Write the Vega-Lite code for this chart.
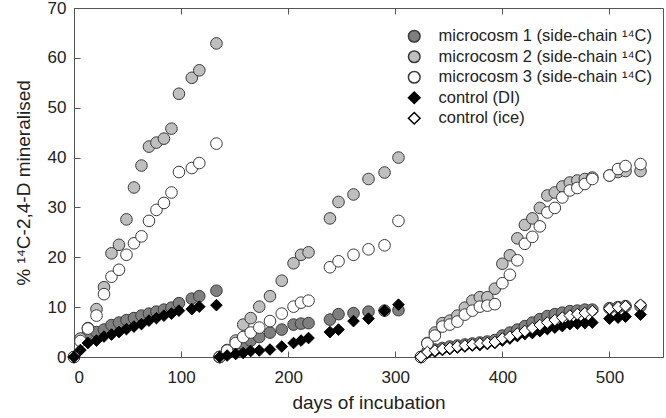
{
  "$schema": "https://vega.github.io/schema/vega-lite/v6.json",
  "width": 589,
  "height": 349,
  "autosize": {"type": "none"},
  "padding": {"left": 74, "top": 8, "right": 3, "bottom": 61},
  "background": "white",
  "config": {
    "font": "Liberation Sans",
    "view": {"stroke": "#555", "strokeWidth": 1},
    "axis": {
      "domainColor": "#555",
      "tickColor": "#555",
      "tickSize": -6,
      "labelFontSize": 17,
      "labelColor": "#222",
      "titleFontSize": 19,
      "titleColor": "#222",
      "titleFontWeight": "normal",
      "grid": false
    }
  },
  "data": {
    "values": [
      {"s":"m1","d":0,"v":0},{"s":"m1","d":6,"v":3.6},{"s":"m1","d":13,"v":4.7},{"s":"m1","d":21,"v":5.0},{"s":"m1","d":28,"v":5.5},{"s":"m1","d":35,"v":6.4},{"s":"m1","d":42,"v":6.9},{"s":"m1","d":49,"v":7.4},{"s":"m1","d":56,"v":7.8},{"s":"m1","d":63,"v":8.3},{"s":"m1","d":70,"v":8.7},{"s":"m1","d":77,"v":9.1},{"s":"m1","d":84,"v":9.5},{"s":"m1","d":91,"v":9.9},{"s":"m1","d":98,"v":10.8},{"s":"m1","d":110,"v":11.7},{"s":"m1","d":117,"v":12.2},{"s":"m1","d":133,"v":13.3},
      {"s":"m1","d":136,"v":0},{"s":"m1","d":143,"v":0.8},{"s":"m1","d":151,"v":1.6},{"s":"m1","d":158,"v":2.6},{"s":"m1","d":165,"v":3.3},{"s":"m1","d":173,"v":4.0},{"s":"m1","d":183,"v":4.9},{"s":"m1","d":194,"v":5.5},{"s":"m1","d":205,"v":6.5},{"s":"m1","d":212,"v":6.7},{"s":"m1","d":219,"v":6.8},{"s":"m1","d":239,"v":7.5},{"s":"m1","d":247,"v":8.6},{"s":"m1","d":261,"v":8.8},{"s":"m1","d":275,"v":9.1},{"s":"m1","d":290,"v":9.3},{"s":"m1","d":303,"v":9.4},
      {"s":"m1","d":324,"v":0},{"s":"m1","d":330,"v":1.1},{"s":"m1","d":337,"v":1.5},{"s":"m1","d":344,"v":1.8},{"s":"m1","d":351,"v":2.1},{"s":"m1","d":358,"v":2.3},{"s":"m1","d":365,"v":2.5},{"s":"m1","d":372,"v":2.7},{"s":"m1","d":379,"v":2.9},{"s":"m1","d":386,"v":3.1},{"s":"m1","d":393,"v":3.4},{"s":"m1","d":400,"v":4.3},{"s":"m1","d":407,"v":4.9},{"s":"m1","d":414,"v":5.5},{"s":"m1","d":421,"v":6.2},{"s":"m1","d":428,"v":6.9},{"s":"m1","d":435,"v":7.6},{"s":"m1","d":442,"v":8.2},{"s":"m1","d":449,"v":8.6},{"s":"m1","d":456,"v":8.9},{"s":"m1","d":463,"v":9.2},{"s":"m1","d":470,"v":9.3},{"s":"m1","d":477,"v":9.5},{"s":"m1","d":484,"v":9.5},{"s":"m1","d":500,"v":9.8},{"s":"m1","d":508,"v":10.0},{"s":"m1","d":515,"v":10.2},{"s":"m1","d":529,"v":10.2},
      {"s":"m2","d":0,"v":0},{"s":"m2","d":6,"v":3.7},{"s":"m2","d":13,"v":5.8},{"s":"m2","d":21,"v":9.6},{"s":"m2","d":28,"v":14.0},{"s":"m2","d":35,"v":20.8},{"s":"m2","d":42,"v":22.5},{"s":"m2","d":49,"v":27.6},{"s":"m2","d":56,"v":34.0},{"s":"m2","d":63,"v":38.4},{"s":"m2","d":70,"v":42.2},{"s":"m2","d":77,"v":43.0},{"s":"m2","d":84,"v":43.8},{"s":"m2","d":91,"v":45.8},{"s":"m2","d":98,"v":52.8},{"s":"m2","d":110,"v":56.0},{"s":"m2","d":117,"v":57.5},{"s":"m2","d":133,"v":62.9},
      {"s":"m2","d":136,"v":0},{"s":"m2","d":143,"v":1.4},{"s":"m2","d":151,"v":3.3},{"s":"m2","d":158,"v":6.5},{"s":"m2","d":165,"v":7.8},{"s":"m2","d":173,"v":10.1},{"s":"m2","d":183,"v":12.2},{"s":"m2","d":194,"v":15.3},{"s":"m2","d":205,"v":18.8},{"s":"m2","d":212,"v":20.5},{"s":"m2","d":219,"v":21.0},{"s":"m2","d":239,"v":27.8},{"s":"m2","d":247,"v":31.1},{"s":"m2","d":261,"v":32.6},{"s":"m2","d":275,"v":35.7},{"s":"m2","d":290,"v":37.0},{"s":"m2","d":303,"v":40.0},
      {"s":"m2","d":324,"v":0},{"s":"m2","d":330,"v":2.8},{"s":"m2","d":337,"v":4.9},{"s":"m2","d":344,"v":6.8},{"s":"m2","d":351,"v":7.3},{"s":"m2","d":358,"v":8.3},{"s":"m2","d":365,"v":9.9},{"s":"m2","d":372,"v":11.3},{"s":"m2","d":379,"v":12.0},{"s":"m2","d":386,"v":12.0},{"s":"m2","d":393,"v":13.7},{"s":"m2","d":400,"v":18.7},{"s":"m2","d":407,"v":20.4},{"s":"m2","d":414,"v":23.8},{"s":"m2","d":421,"v":26.5},{"s":"m2","d":428,"v":27.8},{"s":"m2","d":435,"v":29.9},{"s":"m2","d":442,"v":32.4},{"s":"m2","d":449,"v":33.0},{"s":"m2","d":456,"v":34.2},{"s":"m2","d":463,"v":35.0},{"s":"m2","d":470,"v":35.4},{"s":"m2","d":477,"v":35.7},{"s":"m2","d":484,"v":36.0},{"s":"m2","d":500,"v":36.4},{"s":"m2","d":508,"v":37.1},{"s":"m2","d":515,"v":37.3},{"s":"m2","d":529,"v":37.3},
      {"s":"m3","d":0,"v":0},{"s":"m3","d":6,"v":3.2},{"s":"m3","d":13,"v":5.7},{"s":"m3","d":21,"v":8.3},{"s":"m3","d":28,"v":12.6},{"s":"m3","d":35,"v":16.1},{"s":"m3","d":42,"v":17.5},{"s":"m3","d":49,"v":20.5},{"s":"m3","d":56,"v":22.8},{"s":"m3","d":63,"v":24.2},{"s":"m3","d":70,"v":27.3},{"s":"m3","d":77,"v":29.5},{"s":"m3","d":84,"v":30.9},{"s":"m3","d":91,"v":33.0},{"s":"m3","d":98,"v":37.1},{"s":"m3","d":110,"v":37.9},{"s":"m3","d":117,"v":38.9},{"s":"m3","d":133,"v":42.8},
      {"s":"m3","d":136,"v":0},{"s":"m3","d":143,"v":1.3},{"s":"m3","d":151,"v":2.8},{"s":"m3","d":158,"v":4.0},{"s":"m3","d":165,"v":4.9},{"s":"m3","d":173,"v":5.9},{"s":"m3","d":183,"v":7.2},{"s":"m3","d":194,"v":8.7},{"s":"m3","d":205,"v":10.1},{"s":"m3","d":212,"v":10.9},{"s":"m3","d":219,"v":11.3},{"s":"m3","d":239,"v":18.0},{"s":"m3","d":247,"v":19.2},{"s":"m3","d":261,"v":20.5},{"s":"m3","d":275,"v":21.6},{"s":"m3","d":290,"v":22.4},{"s":"m3","d":303,"v":27.3},
      {"s":"m3","d":324,"v":0},{"s":"m3","d":330,"v":2.7},{"s":"m3","d":337,"v":4.3},{"s":"m3","d":344,"v":6.1},{"s":"m3","d":351,"v":6.5},{"s":"m3","d":358,"v":7.1},{"s":"m3","d":365,"v":8.5},{"s":"m3","d":372,"v":9.3},{"s":"m3","d":379,"v":10.1},{"s":"m3","d":386,"v":10.3},{"s":"m3","d":393,"v":10.6},{"s":"m3","d":400,"v":14.8},{"s":"m3","d":407,"v":16.5},{"s":"m3","d":414,"v":19.4},{"s":"m3","d":421,"v":22.7},{"s":"m3","d":428,"v":24.1},{"s":"m3","d":435,"v":26.2},{"s":"m3","d":442,"v":29.0},{"s":"m3","d":449,"v":29.9},{"s":"m3","d":456,"v":32.0},{"s":"m3","d":463,"v":33.4},{"s":"m3","d":470,"v":33.9},{"s":"m3","d":477,"v":34.7},{"s":"m3","d":484,"v":35.7},{"s":"m3","d":500,"v":36.4},{"s":"m3","d":508,"v":37.7},{"s":"m3","d":515,"v":38.3},{"s":"m3","d":529,"v":38.7},
      {"s":"di","d":0,"v":0},{"s":"di","d":6,"v":1.4},{"s":"di","d":13,"v":2.8},{"s":"di","d":21,"v":3.3},{"s":"di","d":28,"v":4.1},{"s":"di","d":35,"v":4.5},{"s":"di","d":42,"v":5.0},{"s":"di","d":49,"v":5.6},{"s":"di","d":56,"v":6.1},{"s":"di","d":63,"v":6.6},{"s":"di","d":70,"v":7.3},{"s":"di","d":77,"v":7.8},{"s":"di","d":84,"v":8.3},{"s":"di","d":91,"v":8.7},{"s":"di","d":98,"v":9.3},{"s":"di","d":110,"v":9.6},{"s":"di","d":117,"v":10.1},{"s":"di","d":133,"v":10.4},
      {"s":"di","d":136,"v":0},{"s":"di","d":143,"v":0.3},{"s":"di","d":151,"v":0.6},{"s":"di","d":158,"v":0.8},{"s":"di","d":165,"v":1.2},{"s":"di","d":173,"v":1.3},{"s":"di","d":183,"v":1.5},{"s":"di","d":194,"v":2.1},{"s":"di","d":205,"v":2.8},{"s":"di","d":212,"v":3.3},{"s":"di","d":219,"v":3.8},{"s":"di","d":239,"v":5.0},{"s":"di","d":247,"v":5.5},{"s":"di","d":261,"v":7.2},{"s":"di","d":275,"v":7.7},{"s":"di","d":290,"v":9.3},{"s":"di","d":303,"v":10.5},
      {"s":"di","d":324,"v":0},{"s":"di","d":330,"v":0.8},{"s":"di","d":337,"v":1.1},{"s":"di","d":344,"v":1.4},{"s":"di","d":351,"v":1.6},{"s":"di","d":358,"v":1.9},{"s":"di","d":365,"v":2.1},{"s":"di","d":372,"v":2.3},{"s":"di","d":379,"v":2.4},{"s":"di","d":386,"v":2.6},{"s":"di","d":393,"v":2.8},{"s":"di","d":400,"v":3.3},{"s":"di","d":407,"v":3.7},{"s":"di","d":414,"v":4.2},{"s":"di","d":421,"v":4.6},{"s":"di","d":428,"v":4.8},{"s":"di","d":435,"v":5.2},{"s":"di","d":442,"v":5.6},{"s":"di","d":449,"v":5.9},{"s":"di","d":456,"v":6.2},{"s":"di","d":463,"v":6.6},{"s":"di","d":470,"v":6.7},{"s":"di","d":477,"v":6.8},{"s":"di","d":484,"v":6.9},{"s":"di","d":500,"v":7.7},{"s":"di","d":508,"v":7.9},{"s":"di","d":515,"v":8.1},{"s":"di","d":529,"v":8.5},
      {"s":"ice","d":324,"v":0},{"s":"ice","d":330,"v":1.0},{"s":"ice","d":337,"v":1.3},{"s":"ice","d":344,"v":1.6},{"s":"ice","d":351,"v":1.8},{"s":"ice","d":358,"v":2.1},{"s":"ice","d":365,"v":2.3},{"s":"ice","d":372,"v":2.5},{"s":"ice","d":379,"v":2.7},{"s":"ice","d":386,"v":2.8},{"s":"ice","d":393,"v":3.0},{"s":"ice","d":400,"v":3.7},{"s":"ice","d":407,"v":4.1},{"s":"ice","d":414,"v":4.7},{"s":"ice","d":421,"v":5.2},{"s":"ice","d":428,"v":5.8},{"s":"ice","d":435,"v":6.4},{"s":"ice","d":442,"v":6.9},{"s":"ice","d":449,"v":7.4},{"s":"ice","d":456,"v":7.9},{"s":"ice","d":463,"v":8.3},{"s":"ice","d":470,"v":8.6},{"s":"ice","d":477,"v":8.8},{"s":"ice","d":484,"v":9.2},{"s":"ice","d":500,"v":9.7},{"s":"ice","d":508,"v":10.0},{"s":"ice","d":515,"v":10.2},{"s":"ice","d":529,"v":10.5}
    ]
  },
  "layer": [
    {
      "mark": {"type": "point", "filled": true, "strokeWidth": 1, "opacity": 1},
      "encoding": {
        "x": {
          "field": "d", "type": "quantitative",
          "scale": {"domain": [0, 550], "nice": false, "zero": false},
          "axis": {"orient": "bottom", "values": [0, 100, 200, 300, 400, 500], "title": "days of incubation", "labelPadding": 18, "titlePadding": 8}
        },
        "y": {
          "field": "v", "type": "quantitative",
          "scale": {"domain": [0, 70], "nice": false},
          "axis": {"values": [0, 10, 20, 30, 40, 50, 60, 70], "title": "% ¹⁴C-2,4-D mineralised", "labelPadding": 14, "titlePadding": 14}
        },
        "shape": {
          "field": "s", "type": "nominal",
          "scale": {"domain": ["m1", "m2", "m3", "di", "ice"], "range": ["circle", "circle", "circle", "diamond", "diamond"]},
          "legend": {"orient": "none", "legendX": 332, "legendY": 20, "title": null, "labelFontSize": 16.5, "labelColor": "#222", "labelLimit": 400, "rowPadding": 1.5, "labelOffset": 16, "labelExpr": "{'m1':'microcosm 1 (side-chain ¹⁴C)','m2':'microcosm 2 (side-chain ¹⁴C)','m3':'microcosm 3 (side-chain ¹⁴C)','di':'control (DI)','ice':'control (ice)'}[datum.label]"}
        },
        "fill": {
          "field": "s", "type": "nominal",
          "scale": {"domain": ["m1", "m2", "m3", "di", "ice"], "range": ["#7f7f7f", "#bfbfbf", "#ffffff", "#000000", "#ffffff"]},
          "legend": {"orient": "none", "legendX": 332, "legendY": 20, "title": null, "labelFontSize": 16.5, "labelColor": "#222", "labelLimit": 400, "rowPadding": 1.5, "labelOffset": 16, "labelExpr": "{'m1':'microcosm 1 (side-chain ¹⁴C)','m2':'microcosm 2 (side-chain ¹⁴C)','m3':'microcosm 3 (side-chain ¹⁴C)','di':'control (DI)','ice':'control (ice)'}[datum.label]"}
        },
        "stroke": {
          "field": "s", "type": "nominal",
          "scale": {"domain": ["m1", "m2", "m3", "di", "ice"], "range": ["#3a3a3a", "#3a3a3a", "#3a3a3a", "#000000", "#000000"]},
          "legend": {"orient": "none", "legendX": 332, "legendY": 20, "title": null, "labelFontSize": 16.5, "labelColor": "#222", "labelLimit": 400, "rowPadding": 1.5, "labelOffset": 16, "labelExpr": "{'m1':'microcosm 1 (side-chain ¹⁴C)','m2':'microcosm 2 (side-chain ¹⁴C)','m3':'microcosm 3 (side-chain ¹⁴C)','di':'control (DI)','ice':'control (ice)'}[datum.label]"}
        },
        "size": {
          "field": "s", "type": "nominal",
          "scale": {"domain": ["m1", "m2", "m3", "di", "ice"], "range": [135, 135, 135, 110, 110]},
          "legend": {"orient": "none", "legendX": 332, "legendY": 20, "title": null, "labelFontSize": 16.5, "labelColor": "#222", "labelLimit": 400, "rowPadding": 1.5, "labelOffset": 16, "labelExpr": "{'m1':'microcosm 1 (side-chain ¹⁴C)','m2':'microcosm 2 (side-chain ¹⁴C)','m3':'microcosm 3 (side-chain ¹⁴C)','di':'control (DI)','ice':'control (ice)'}[datum.label]"}
        }
      }
    },
    {
      "mark": {"type": "point", "opacity": 0},
      "encoding": {
        "x": {
          "field": "d", "type": "quantitative",
          "axis": {"orient": "top", "values": [0, 100, 200, 300, 400, 500], "labels": false, "title": null, "domain": false}
        }
      }
    }
  ],
  "resolve": {"axis": {"x": "independent"}}
}
